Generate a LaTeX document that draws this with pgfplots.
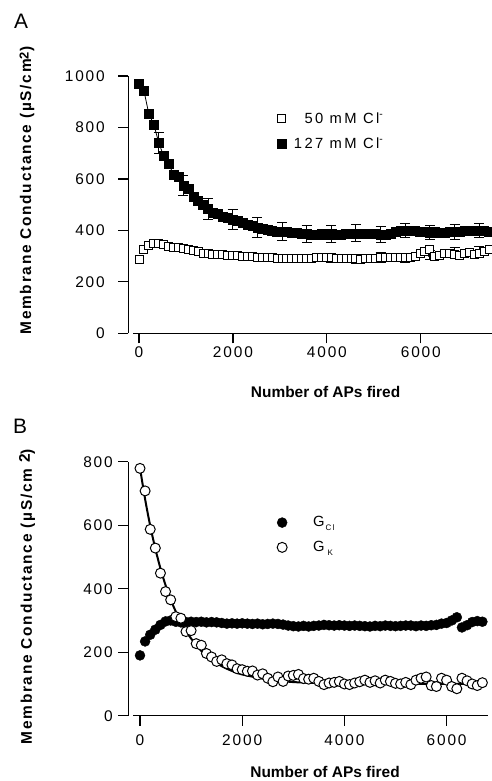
\documentclass[border=0pt]{standalone}
\usepackage{fontspec}
\setmainfont{Liberation Sans}
\newfontfamily\tickfont[LetterSpace=12]{Liberation Sans}
\newfontfamily\legfont[LetterSpace=16]{Liberation Sans}
\newfontfamily\ylabfont[LetterSpace=11]{Liberation Sans}
\usepackage{pgfplots}
\pgfplotsset{compat=1.18}

\newcommand\xlabsize{\bfseries\fontsize{15.5}{15.5}\selectfont}
\newcommand\ylabsize{\ylabfont\bfseries\fontsize{15.5}{15.5}\selectfont}

\pgfplotsset{
  panel/.style={
    scale only axis,
    axis x line=bottom, axis y line=left,
    axis line style={-, line width=1.3bp, black},
    x axis line style={shorten <=5bp},
    tick align=outside,
    major tick length=10bp,
    every tick/.style={black, line width=1.3bp},
    ticklabel style={font=\tickfont\fontsize{15.5}{15.5}\selectfont},
    /pgf/number format/1000 sep={},
    /pgf/number format/assume math mode=true,
    xtick={0,2000,4000,6000},
    clip=false,
    legend style={draw=none, fill=none, font=\legfont\fontsize{14.8}{14.8}\selectfont,
      row sep=9bp},
  },
  ebars/.style={forget plot, only marks, mark=none, black,
    error bars/.cd, y dir=both, y explicit,
    error bar style={line width=1bp, black},
    error mark options={rotate=90, black, line width=1bp, mark size=5bp}},
}

\begin{document}
\begin{tikzpicture}

% ---------- panel A ----------
\begin{axis}[panel,
  at={(128.3bp,-333.3bp)}, anchor=south west,
  width=363.7bp, height=257.3bp,
  xmin=-228, xmax=7517, ymin=0, ymax=1000,
  ytick={0,200,400,600,800,1000},
  yticklabel style={xshift=-10bp},
  xlabel={Number of APs fired},
  ylabel={Membrane Conductance (µS/cm\raisebox{2.5bp}{\fontsize{13}{13}\selectfont 2})},
  every axis x label/.style={at={(axis description cs:0.5425,-0.228)}, anchor=center, font=\xlabsize},
  every axis y label/.style={at={(axis description cs:-0.2786,0.555)}, rotate=90, anchor=center, font=\ylabsize},
  legend style={at={(axis description cs:0.40,0.875)}, anchor=north west},
  legend cell align=right,
]
% error bars, 50 mM
\addplot[ebars] table[x=x, y=y, y error=e] {
  x y e
  420 350 10
  945 328 10
  1470 310 12
  1995 303 14
  2520 296 14
  3045 289 15
  3570 292 15
  4095 292 16
  4620 289 16
  5145 295 18
  5670 294 18
  6195 304 18
  6720 314 18
  7245 318 20
};
\addplot[only marks, mark=square*, mark size=4bp,
  mark options={fill=white, draw=black, line width=1bp}]
  table {
  x y
  0 288
  105 327
  210 340
  315 349
  420 350
  525 345
  630 338
  735 334
  840 333
  945 328
  1050 324
  1155 320
  1260 316
  1365 312
  1470 310
  1575 308
  1680 306
  1785 305
  1890 304
  1995 303
  2100 301
  2205 300
  2310 298
  2415 297
  2520 296
  2625 295
  2730 294
  2835 293
  2940 291
  3045 290
  3150 289
  3255 290
  3360 291
  3465 290
  3570 291
  3675 292
  3780 294
  3885 295
  3990 294
  4095 293
  4200 292
  4305 292
  4410 291
  4515 292
  4620 290
  4725 288
  4830 289
  4935 291
  5040 292
  5145 293
  5250 294
  5355 295
  5460 294
  5565 293
  5670 295
  5775 294
  5880 298
  5985 310
  6090 318
  6195 325
  6300 298
  6405 304
  6510 310
  6615 312
  6720 306
  6825 303
  6930 310
  7035 314
  7140 308
  7245 312
  7350 318
  7455 326
};
\addlegendentry{\hspace{6bp}50 mM Cl\textsuperscript{-}}
\pgfplotstableread{
  x y
  0 969
  105 943
  210 852
  315 812
  420 741
  525 689
  630 659
  735 617
  840 609
  945 574
  1050 561
  1155 529
  1260 516
  1365 500
  1470 483
  1575 470
  1680 464
  1785 455
  1890 448
  1995 442
  2100 437
  2205 430
  2310 424
  2415 418
  2520 412
  2625 407
  2730 402
  2835 398
  2940 396
  3045 395
  3150 394
  3255 392
  3360 390
  3465 388
  3570 386
  3675 385
  3780 384
  3885 386
  3990 385
  4095 386
  4200 385
  4305 384
  4410 386
  4515 388
  4620 389
  4725 389
  4830 388
  4935 388
  5040 386
  5145 384
  5250 384
  5355 388
  5460 394
  5565 399
  5670 400
  5775 398
  5880 397
  5985 395
  6090 393
  6195 392
  6300 394
  6405 392
  6510 391
  6615 393
  6720 394
  6825 396
  6930 398
  7035 399
  7140 398
  7245 399
  7350 397
  7455 396
}\highcl
\addplot[forget plot, black, line width=0.8bp, mark=none] table {\highcl};
\addplot[only marks, mark=square*, mark size=4.5bp,
  mark options={fill=black, draw=black}] table {\highcl};
\addlegendentry{\hspace{6bp}127 mM Cl\textsuperscript{-}}
% error bars, 127 mM
\addplot[ebars] table[x=x, y=y, y error=e] {
  x y e
  420 741 41
  945 574 39
  1470 483 40
  1995 442 38
  2520 412 38
  3045 395 36
  3570 386 34
  4095 386 32
  4620 389 32
  5145 384 30
  5670 400 28
  6195 392 28
  6720 394 30
  7245 399 28
};
\end{axis}

% ---------- panel B ----------
\begin{axis}[panel,
  at={(128.3bp,-715.7bp)}, anchor=south west,
  width=359.7bp, height=254bp,
  xmin=-229, xmax=6810, ymin=0, ymax=800,
  ytick={0,200,400,600,800},
  yticklabel style={xshift=-2bp},
  xticklabel style={yshift=-5bp},
  xlabel={Number of APs fired},
  ylabel={Membrane Conductance (µS/cm \raisebox{2bp}{2})},
  every axis x label/.style={at={(axis description cs:0.547,-0.2205)}, anchor=center, font=\xlabsize},
  every axis y label/.style={at={(axis description cs:-0.2816,0.469)}, rotate=90, anchor=center, font=\ylabsize},
  legend style={at={(axis description cs:0.405,0.80)}, anchor=north west},
  legend cell align=left,
]
\addplot[only marks, mark=*, mark size=5bp,
  mark options={fill=black, draw=black}]
  table {
  x y
  0 190
  100 234
  200 255
  300 271
  400 286
  500 297
  600 300
  700 296
  800 294
  900 295
  1000 296
  1100 295
  1200 296
  1300 294
  1400 295
  1500 294
  1600 292
  1700 290
  1800 291
  1900 290
  2000 291
  2100 290
  2200 289
  2300 290
  2400 288
  2500 289
  2600 290
  2700 289
  2800 287
  2900 284
  3000 282
  3100 281
  3200 283
  3300 281
  3400 283
  3500 284
  3600 286
  3700 285
  3800 284
  3900 285
  4000 284
  4100 283
  4200 284
  4300 283
  4400 282
  4500 281
  4600 283
  4700 282
  4800 284
  4900 283
  5000 282
  5100 283
  5200 284
  5300 284
  5400 282
  5500 284
  5600 283
  5700 285
  5800 286
  5900 290
  6000 292
  6100 300
  6200 310
  6300 278
  6400 285
  6500 295
  6600 298
  6700 296
};
\addlegendentry{\hspace{24bp}G\hspace{1bp}\raisebox{-4bp}{\fontsize{8}{8}\selectfont Cl}}
\addplot[only marks, mark=*, mark size=5bp,
  mark options={fill=white, draw=black, line width=1bp}]
  table {
  x y
  0 779
  100 708
  200 587
  300 528
  400 449
  500 391
  600 365
  700 312
  800 307
  900 265
  1000 268
  1100 227
  1200 222
  1300 196
  1400 185
  1500 171
  1600 176
  1700 164
  1800 160
  1900 148
  2000 145
  2100 140
  2200 141
  2300 128
  2400 132
  2500 118
  2600 107
  2700 122
  2800 108
  2900 125
  3000 127
  3100 130
  3200 117
  3300 115
  3400 118
  3500 108
  3600 98
  3700 103
  3800 105
  3900 108
  4000 100
  4100 98
  4200 103
  4300 107
  4400 112
  4500 105
  4600 110
  4700 103
  4800 112
  4900 108
  5000 102
  5100 100
  5200 105
  5300 98
  5400 112
  5500 118
  5600 122
  5700 95
  5800 92
  5900 118
  6000 112
  6100 92
  6200 85
  6300 118
  6400 110
  6500 100
  6600 95
  6700 104
};
\addlegendentry{\hspace{24bp}G\hspace{3bp}\raisebox{-4bp}{\fontsize{8}{8}\selectfont K}}
% exponential fit to G_K
\addplot[forget plot, black, line width=2bp, smooth, mark=none]
  table {
  x y
  0 780
  100 682
  200 598
  300 526
  400 464
  500 411
  600 366
  700 328
  800 295
  900 267
  1000 243
  1200 204
  1400 176
  1600 156
  1800 141
  2000 130
  2500 114
  3000 106
  3500 103
  4000 101
  5000 100
  6000 100
  6700 100
};
\end{axis}

\node[anchor=base west, inner sep=0pt] at (14bp,-28bp) {\fontsize{21}{21}\selectfont A};
\node[anchor=base west, inner sep=0pt] at (13bp,-433bp) {\fontsize{21}{21}\selectfont B};

\pgfresetboundingbox
\path[use as bounding box] (0bp,0bp) rectangle (492bp,-781bp);
\end{tikzpicture}
\end{document}
